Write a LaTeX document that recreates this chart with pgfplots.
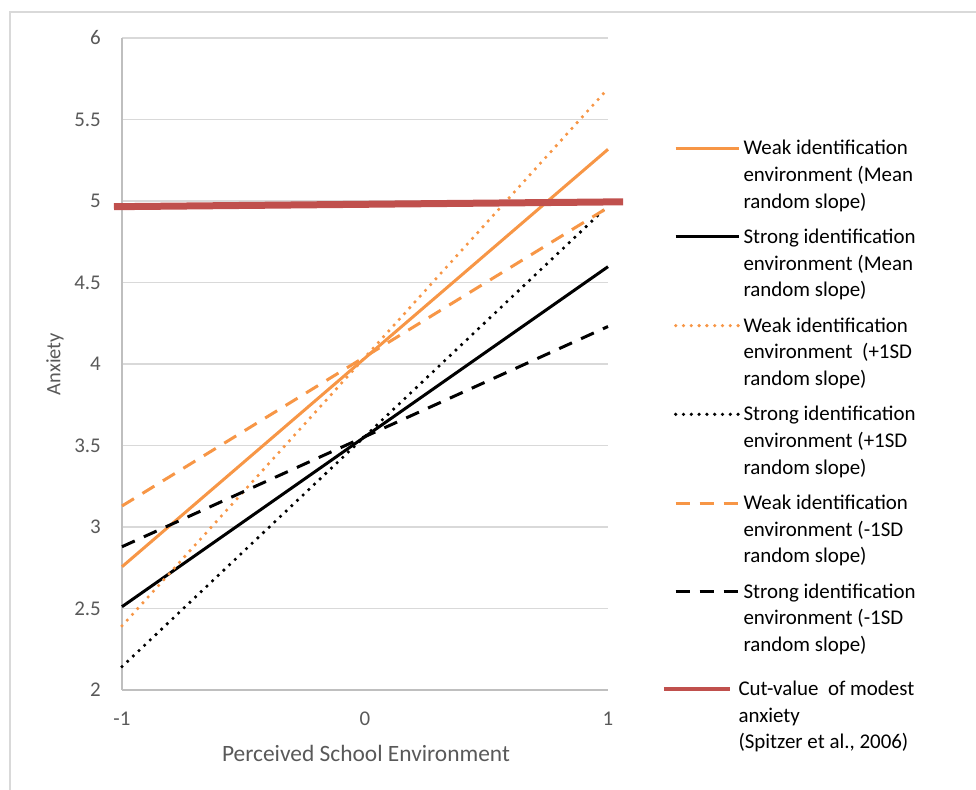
\documentclass[border=0pt]{standalone}
\usepackage{fontspec}
\setmainfont{Carlito}
\usepackage{pgfplots}
\pgfplotsset{compat=1.18}
\definecolor{xorange}{HTML}{F79646}
\definecolor{xred}{HTML}{C0504D}
\definecolor{xgrid}{HTML}{D9D9D9}
\definecolor{xaxis}{HTML}{BFBFBF}
\definecolor{xtext}{HTML}{595959}
\definecolor{xframe}{HTML}{D9D9D9}
\newcommand{\lent}[4][]{\vtop{\fontsize{21}{26.7}\selectfont\baselineskip=26.7bp
  \hbox{\strut#1#2}\hbox{\strut#3}\hbox{\strut#4}}}
\begin{document}
\begin{tikzpicture}
\useasboundingbox (0bp,0bp) rectangle (976bp,790bp);
\draw[xframe, line width=1.5bp] (10bp,-10bp) -- (10bp,778bp) -- (990bp,778bp);
\begin{axis}[
  at={(122bp,100bp)}, anchor=south west,
  scale only axis, width=486bp, height=652bp,
  xmin=-1, xmax=1, ymin=2, ymax=6,
  xtick={-1,0,1},
  ytick={2,2.5,3,3.5,4,4.5,5,5.5,6},
  yticklabels={2,2.5,3,3.5,4,4.5,5,5.5,6},
  xticklabels={-1,0,1},
  major tick length=0pt,
  axis x line*=bottom, axis y line*=left,
  axis line style={xaxis, line width=1.3bp, -},
  ymajorgrids, grid style={xgrid, line width=1.3bp},
  clip=false,
  /pgf/number format/assume math mode=true,
  ticklabel style={font=\fontsize{21}{25}\selectfont, text=xtext, inner sep=0pt},
  x tick label style={anchor=north, yshift=-21.5bp},
  y tick label style={anchor=east, xshift=-21bp},
  xlabel={Perceived School Environment},
  ylabel={Anxiety},
  xlabel style={font=\fontsize{23.5}{28}\selectfont, text=xtext, at={(axis description cs:0.502,-0.097)}, anchor=center, inner sep=0pt},
  ylabel style={font=\fontsize{20.5}{24}\selectfont, text=xtext, at={(axis description cs:-0.138,0.5)}, anchor=center, inner sep=0pt},
  legend image code/.code={\draw[#1] (0bp,6.5bp) -- (63bp,6.5bp);},
  legend style={draw=none, fill=none, inner sep=0pt, outer sep=0pt,
    row sep=8.7bp,
    nodes={inner sep=0pt, outer sep=0pt, text depth=},
    cells={anchor=base west},
    /tikz/every odd column/.append style={column sep=3bp},
    at={(axis description cs:1.1111,0.8495)}, anchor=north west},
]
\addplot[xorange, line width=3bp] coordinates {(-1,2.756) (1,5.317)};
\addlegendentry{\lent{Weak identification}{environment (Mean}{random slope)}}
\addplot[black, line width=3bp] coordinates {(-1,2.511) (1,4.597)};
\addlegendentry{\lent{Strong identification}{environment (Mean}{random slope)}}
\addplot[xorange, line width=3.6bp, line cap=round, dash pattern=on 0bp off 7.8bp] coordinates {(-1,2.393) (1,5.69)};
\addlegendentry{\lent{Weak identification}{environment\ \ (+1SD}{random slope)}}
\addplot[black, line width=3.6bp, line cap=round, dash pattern=on 0bp off 7.8bp] coordinates {(-1,2.143) (1,4.97)};
\addlegendentry{\lent{Strong identification}{environment (+1SD}{random slope)}}
\addplot[xorange, line width=3bp, dash pattern=on 14bp off 10bp] coordinates {(-1,3.129) (1,4.96)};
\addlegendentry{\lent{Weak identification}{environment (-1SD}{random slope)}}
\addplot[black, line width=3bp, dash pattern=on 14bp off 10bp] coordinates {(-1,2.879) (1,4.23)};
\addlegendentry{\lent{Strong identification}{environment (-1SD}{random slope)}}
\addplot[xred, line width=7bp,
  legend image code/.code={\draw[xred, line width=4bp] (-11.7bp,6.5bp) -- (54.3bp,6.5bp);}]
  coordinates {(-1.033,4.965) (1.062,4.995)};
\addlegendentry{\hspace*{-5bp}\lent[\rule{0pt}{27bp}]{Cut-value\ \ of modest}{anxiety}{(Spitzer et al., 2006)}}
\end{axis}
\end{tikzpicture}
\end{document}
